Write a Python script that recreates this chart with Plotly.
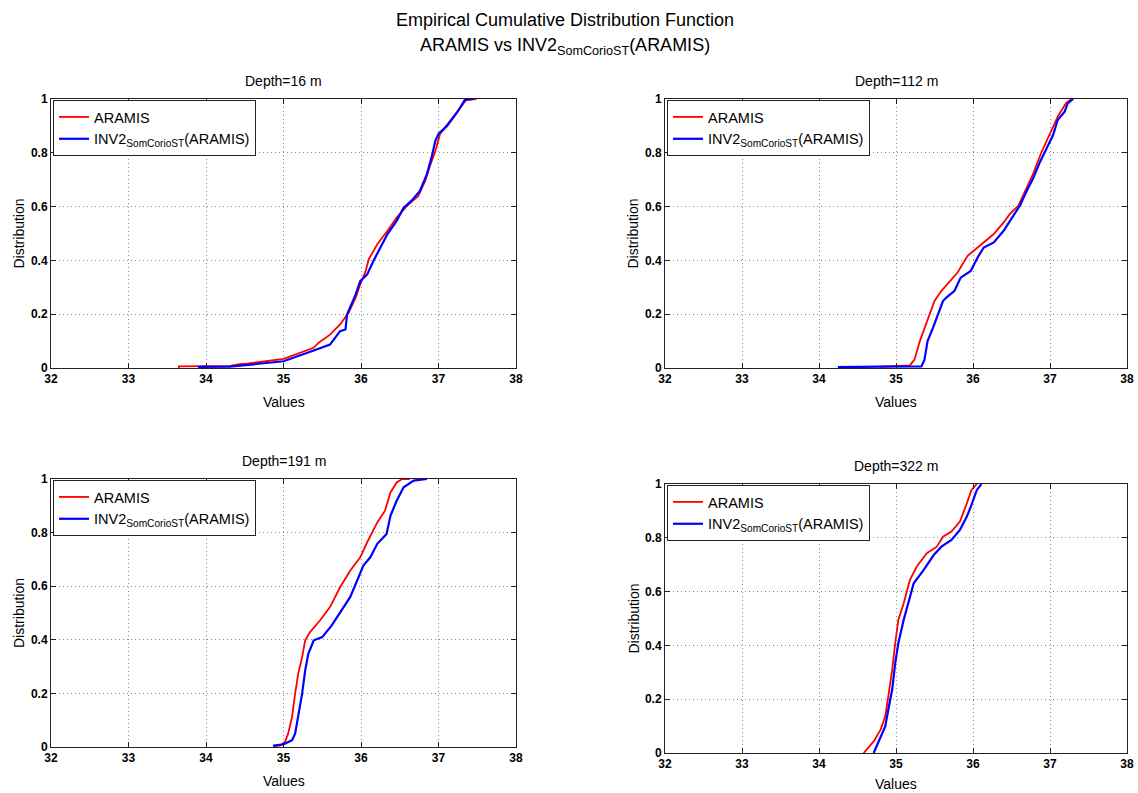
import plotly.graph_objects as go

W, H = 1138, 793

# ---------------- data ----------------
titles = ["Depth=16 m", "Depth=112 m", "Depth=191 m", "Depth=322 m"]
series_names = ["ARAMIS", "INV2<sub>SomCorioST</sub>(ARAMIS)"]
x_ticks = [32, 33, 34, 35, 36, 37, 38]
y_ticks = [0, 0.2, 0.4, 0.6, 0.8, 1]
y_tick_labels = ["0", "0.2", "0.4", "0.6", "0.8", "1"]

d16_aramis_x = [33.65, 33.65, 34.0, 34.31, 34.43, 34.53, 35.0, 35.39, 35.45, 35.60, 35.73, 35.84, 35.93, 35.99,
                36.06, 36.10, 36.21, 36.34, 36.46, 36.59, 36.74, 36.83, 36.89, 36.96, 37.02, 37.15, 37.28, 37.36, 37.49]
d16_aramis_f = [0.0, 0.006, 0.007, 0.008, 0.014, 0.016, 0.034, 0.075, 0.093, 0.124, 0.162, 0.205, 0.261, 0.311,
                0.360, 0.404, 0.460, 0.509, 0.559, 0.602, 0.640, 0.696, 0.751, 0.807, 0.870, 0.919, 0.969, 0.997, 1.0]
d16_inv_x = [33.91, 33.91, 34.31, 34.57, 35.0, 35.39, 35.60, 35.73, 35.80, 35.82, 35.93, 35.99, 36.08, 36.16,
             36.25, 36.34, 36.46, 36.55, 36.65, 36.76, 36.85, 36.91, 36.96, 37.0, 37.11, 37.24, 37.34, 37.45]
d16_inv_f = [0.0, 0.004, 0.005, 0.013, 0.025, 0.065, 0.087, 0.137, 0.143, 0.199, 0.273, 0.323, 0.348, 0.398,
             0.447, 0.497, 0.547, 0.596, 0.621, 0.658, 0.721, 0.782, 0.845, 0.870, 0.900, 0.950, 0.997, 1.0]

d112_aramis_x = [34.81, 34.81, 35.18, 35.24, 35.31, 35.37, 35.44, 35.50, 35.59, 35.69, 35.80, 35.93, 36.01, 36.14,
                 36.27, 36.40, 36.48, 36.59, 36.68, 36.78, 36.89, 37.0, 37.10, 37.21, 37.28]
d112_aramis_f = [0.0, 0.005, 0.010, 0.031, 0.100, 0.149, 0.199, 0.249, 0.287, 0.318, 0.355, 0.417, 0.436, 0.467,
                 0.498, 0.542, 0.573, 0.604, 0.660, 0.722, 0.803, 0.872, 0.934, 0.986, 1.0]
d112_inv_x = [34.26, 34.26, 34.79, 35.33, 35.37, 35.41, 35.48, 35.54, 35.61, 35.65, 35.76, 35.84, 35.97, 36.06,
              36.14, 36.27, 36.40, 36.51, 36.61, 36.70, 36.78, 36.87, 36.96, 37.04, 37.10, 37.19, 37.23, 37.30]
d112_inv_f = [0.0, 0.003, 0.005, 0.006, 0.031, 0.100, 0.149, 0.199, 0.249, 0.261, 0.287, 0.336, 0.361, 0.411,
              0.448, 0.467, 0.511, 0.560, 0.604, 0.660, 0.704, 0.766, 0.822, 0.866, 0.922, 0.953, 0.984, 1.0]

d191_aramis_x = [34.89, 34.89, 34.96, 35.02, 35.06, 35.11, 35.15, 35.19, 35.24, 35.28, 35.34, 35.47, 35.60, 35.73,
                 35.86, 35.99, 36.08, 36.21, 36.31, 36.38, 36.46, 36.53, 36.63]
d191_aramis_f = [0.0, 0.003, 0.006, 0.019, 0.050, 0.112, 0.199, 0.273, 0.335, 0.398, 0.428, 0.472, 0.522, 0.596,
                 0.658, 0.708, 0.764, 0.838, 0.882, 0.950, 0.987, 1.0, 1.0]
d191_inv_x = [34.88, 34.88, 35.0, 35.11, 35.15, 35.19, 35.24, 35.28, 35.32, 35.39, 35.50, 35.62, 35.73, 35.86,
              35.95, 36.03, 36.12, 36.21, 36.33, 36.38, 36.46, 36.55, 36.68, 36.85]
d191_inv_f = [0.0, 0.006, 0.010, 0.025, 0.050, 0.112, 0.199, 0.286, 0.348, 0.398, 0.410, 0.453, 0.503, 0.559,
              0.621, 0.677, 0.708, 0.758, 0.795, 0.863, 0.919, 0.969, 0.994, 1.0]

d322_aramis_x = [34.58, 34.71, 34.80, 34.86, 34.90, 34.95, 34.99, 35.03, 35.10, 35.18, 35.27, 35.40, 35.53, 35.61,
                 35.72, 35.83, 35.92, 35.98, 36.05]
d322_aramis_f = [0.0, 0.043, 0.087, 0.136, 0.210, 0.309, 0.408, 0.495, 0.557, 0.643, 0.693, 0.743, 0.767, 0.804,
                 0.823, 0.860, 0.928, 0.978, 1.0]
d322_inv_x = [34.71, 34.78, 34.86, 34.90, 34.95, 34.99, 35.03, 35.10, 35.16, 35.23, 35.36, 35.49, 35.59, 35.72,
              35.83, 35.92, 35.98, 36.05, 36.11]
d322_inv_f = [0.0, 0.049, 0.099, 0.161, 0.235, 0.334, 0.408, 0.495, 0.557, 0.631, 0.681, 0.736, 0.767, 0.792,
              0.829, 0.879, 0.922, 0.978, 1.0]

panels = [
    (d16_aramis_x, d16_aramis_f, d16_inv_x, d16_inv_f),
    (d112_aramis_x, d112_aramis_f, d112_inv_x, d112_inv_f),
    (d191_aramis_x, d191_aramis_f, d191_inv_x, d191_inv_f),
    (d322_aramis_x, d322_aramis_f, d322_inv_x, d322_inv_f),
]

# ---------------- layout geometry (pixels) ----------------
# (left, right, top, bottom) of each plot area, and offset of the "Values" label
boxes = [(51, 516, 99, 368), (665, 1127, 99, 368), (51, 516, 479, 747), (665, 1127, 484, 753)]
xlabel_off = [34, 34, 34, 31]
colors = ["#ff0000", "#0000ff"]
FONT = "Liberation Sans, Arial, Helvetica, sans-serif"

fig = go.Figure()
annotations = []
layout_axes = {}
legends = {}

for i, (box, data) in enumerate(zip(boxes, panels)):
    l, r, t, b = box
    n = i + 1
    xa = "x" if n == 1 else f"x{n}"
    ya = "y" if n == 1 else f"y{n}"
    lg = "legend" if n == 1 else f"legend{n}"
    ax, af, ix, iff = data
    fig.add_trace(go.Scatter(x=ax, y=af, mode="lines", name=series_names[0],
                             line=dict(color=colors[0], width=1.8), xaxis=xa, yaxis=ya, legend=lg))
    fig.add_trace(go.Scatter(x=ix, y=iff, mode="lines", name=series_names[1],
                             line=dict(color=colors[1], width=2.2), xaxis=xa, yaxis=ya, legend=lg))

    common = dict(showline=True, linecolor="#222222", linewidth=1, mirror="ticks",
                  ticks="inside", ticklen=5, tickcolor="#222222", tickwidth=1,
                  showgrid=True, gridcolor="#8c8c8c", griddash="1px,3px", gridwidth=1,
                  zeroline=False, automargin=False,
                  tickfont=dict(family=FONT, size=12, color="black"))
    xkey = "xaxis" if n == 1 else f"xaxis{n}"
    ykey = "yaxis" if n == 1 else f"yaxis{n}"
    layout_axes[xkey] = dict(domain=[l / W, r / W], range=[32, 38], tickvals=x_ticks,
                             ticktext=[f"<b>{v}</b>" for v in x_ticks], anchor=ya, **common)
    layout_axes[ykey] = dict(domain=[1 - b / H, 1 - t / H], range=[0, 1], tickvals=y_ticks,
                             ticktext=[f"<b>{v}</b>" for v in y_tick_labels], anchor=xa, **common)

    legends[lg] = dict(x=(l + 2) / W, y=1 - (t + 1) / H, xanchor="left", yanchor="top",
                       bgcolor="white", bordercolor="#222222", borderwidth=1,
                       font=dict(family=FONT, size=14.5, color="black"),
                       tracegroupgap=0, itemwidth=30)

    cx = (l + r) / 2
    annotations.append(dict(text=titles[i], x=cx / W, y=1 - (t - 18) / H, xref="paper", yref="paper",
                            xanchor="center", yanchor="middle", showarrow=False,
                            font=dict(family=FONT, size=14, color="black")))
    annotations.append(dict(text="Values", x=cx / W, y=1 - (b + xlabel_off[i]) / H, xref="paper", yref="paper",
                            xanchor="center", yanchor="middle", showarrow=False,
                            font=dict(family=FONT, size=14, color="black")))
    annotations.append(dict(text="Distribution", x=(l - 32) / W, y=1 - ((t + b) / 2) / H,
                            xref="paper", yref="paper", xanchor="center", yanchor="middle",
                            textangle=-90, showarrow=False,
                            font=dict(family=FONT, size=14, color="black")))

annotations.append(dict(text="Empirical Cumulative Distribution Function", x=565 / W, y=1 - 20 / H,
                        xref="paper", yref="paper", xanchor="center", yanchor="middle", showarrow=False,
                        font=dict(family=FONT, size=18, color="black")))
annotations.append(dict(text="ARAMIS vs INV2<sub>SomCorioST</sub>(ARAMIS)", x=565 / W, y=1 - 33 / H,
                        xref="paper", yref="paper", xanchor="center", yanchor="top", showarrow=False,
                        font=dict(family=FONT, size=18, color="black")))

fig.update_layout(width=W, height=H, margin=dict(l=0, r=0, t=0, b=0, autoexpand=False),
                  paper_bgcolor="white", plot_bgcolor="white", showlegend=True,
                  annotations=annotations, **layout_axes, **legends)

fig.write_html("out.html", config={"displayModeBar": False},
               post_script="document.body.style.margin='0px';document.body.style.overflow='hidden';")
